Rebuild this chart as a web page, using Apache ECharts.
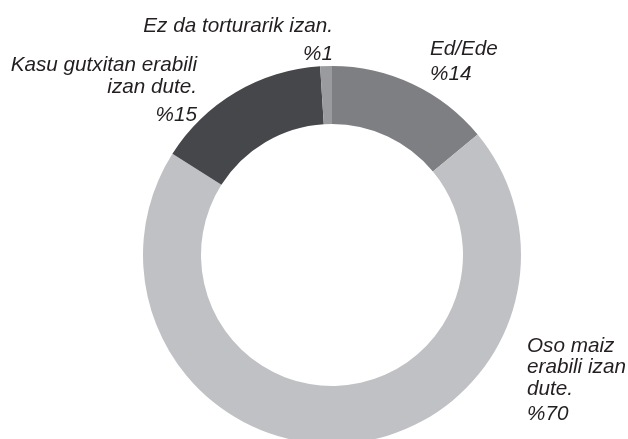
<!DOCTYPE html>
<html>
<head>
<meta charset="utf-8">
<script src="https://cdn.jsdelivr.net/npm/echarts@6/dist/echarts.min.js"></script>
<style>
html,body{margin:0;padding:0;background:#fff;}
#chart{width:628px;height:439px;}
</style>
</head>
<body>
<div id="chart"></div>
<script>
// Data
var categories = ["Ed/Ede", "Oso maiz\nerabili izan\ndute.", "Kasu gutxitan erabili\nizan dute.", "Ez da torturarik izan."];
var values = [14, 70, 15, 1];

// Styling (kept separate from data)
var sliceColors = ["#7e7f83", "#c0c1c4", "#46474a", "#9a9b9e"];
var labelAnchors = [
  {x: 430, y: 38, align: "left"},
  {x: 527, y: 335, align: "left"},
  {x: 197, y: 53.5, align: "right"},
  {x: 333, y: 15, align: "right"}
];
var nameLineHeights = [22, 21.7, 22.7, 22];
var pctLineHeights = [28, 28.5, 32.7, 34.6];
var FONT_SIZE = 20.7;

var chart = echarts.init(document.getElementById("chart"), null, {renderer: "canvas"});

var seriesData = categories.map(function (c, i) {
  return {
    name: c,
    value: values[i],
    itemStyle: {color: sliceColors[i]},
    label: {
      rich: {
        n: {fontSize: FONT_SIZE, lineHeight: nameLineHeights[i], fontStyle: "italic", fontFamily: "Liberation Sans", color: "#231f20", align: labelAnchors[i].align},
        p: {fontSize: FONT_SIZE, lineHeight: pctLineHeights[i], fontStyle: "italic", fontFamily: "Liberation Sans", color: "#231f20", align: labelAnchors[i].align}
      }
    }
  };
});

chart.setOption({
  backgroundColor: "#ffffff",
  animation: false,
  series: [{
    type: "pie",
    center: [332, 255],
    radius: [131, 189],
    startAngle: 90,
    clockwise: true,
    avoidLabelOverlap: false,
    itemStyle: {borderWidth: 0},
    emphasis: {disabled: true},
    label: {
      show: true,
      position: "outside",
      formatter: function (p) {
        var lines = p.name.split("\n").map(function (l) { return "{n|" + l + "}"; });
        lines.push("{p|%" + p.value + "}");
        return lines.join("\n");
      }
    },
    labelLine: {show: false},
    labelLayout: function (params) {
      var a = labelAnchors[params.dataIndex];
      return {x: a.x, y: a.y, align: a.align, verticalAlign: "top"};
    },
    data: seriesData
  }]
});
</script>
</body>
</html>
